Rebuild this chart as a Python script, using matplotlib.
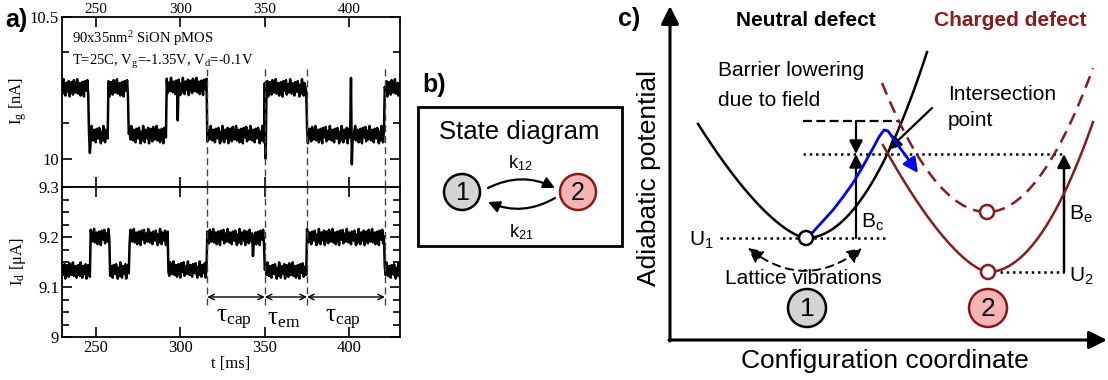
import numpy as np
import matplotlib
matplotlib.use("Agg")
import matplotlib.pyplot as plt
from matplotlib.patches import Circle, FancyArrowPatch, Rectangle
from matplotlib.ticker import MultipleLocator

# === STYLE ===
plt.rcParams['font.family'] = 'Liberation Serif'
plt.rcParams['mathtext.fontset'] = 'custom'
plt.rcParams['mathtext.rm'] = 'Liberation Serif'
plt.rcParams['mathtext.it'] = 'Liberation Serif:italic'
plt.rcParams['mathtext.sf'] = 'Liberation Sans'

W, H = 1108, 380
SANS = 'Liberation Sans'
DARKRED = '#8b1a1a'
PINK = '#f7b4b4'
GRAY = '#d4d4d4'
BLUE = '#0000ff'

# === DATA: panel a (RTN traces) ===
T_START, T_END, T_STEP = 230, 430, 0.5
IG_TRANS = [246, 257.5, 269.5, 292, 316, 350, 375, 421]
IG_LEVELS = [10.25, 10.085, 10.25, 10.085, 10.255, 10.085, 10.25, 10.085, 10.25]
ID_TRANS = [247, 258.5, 270, 293, 316, 350, 375, 421]
ID_LEVELS = [9.133, 9.2, 9.133, 9.2, 9.135, 9.2, 9.133, 9.2, 9.133]
NOISE = [0.3, -0.6, 0.9, -0.2, -0.8, 0.5, 0.1, -0.4, 0.7, -0.9, 0.2, 0.6,
         -0.3, -0.7, 0.8, 0.0, -0.5, 0.4, 0.9, -0.6, -0.1, 0.5, -0.8, 0.3,
         0.6, -0.4, -0.9, 0.7, 0.2, -0.3, 0.8, -0.7, 0.1, 0.4, -0.5, 0.9,
         -0.2, -0.6, 0.5, 0.0, -0.8, 0.6, 0.3, -0.4, 0.7, -0.1, -0.9]
IG_NOISE_AMP = 0.034
ID_NOISE_AMP = 0.018
IG_SPIKES = [(246.5, 10.02), (298.5, 10.135), (350.5, 10.0), (401.0, 10.285), (401.5, 9.98)]
ID_SPIKES = [(343.0, 9.162)]
DASH_T = [316, 350, 375, 421]
TAU_SPANS = [(316, 350, 'cap'), (350, 375, 'em'), (375, 421, 'cap')]

# === DATA: panel c (potential curves, pixel frame) ===
# (x_min, y_min, x_left, c_left, p_left, x_right, c_right, p_right)
NEUTRAL = (806, 238, 698, 0.1017, 1.5, 927, 0.0127, 2.0)
CHARGED = (988, 272, 883, 0.118, 1.5, 1093, 0.0136, 2.0)
CHARGED_FIELD = (987, 212, 882, 0.0117, 2.0, 1093, 0.0128, 2.0)
BLUE_X = [813, 823, 833, 843, 853, 862, 872, 879, 884, 888, 893, 900, 906]
BLUE_Y = [232, 221, 210, 197, 183, 168, 150, 137, 130, 131, 138, 148, 156]


def frac(l, t, r, b):
    return [l / W, 1 - b / H, (r - l) / W, (b - t) / H]


def trace(trans, levels, amp, shift, spikes):
    t = np.arange(T_START, T_END + T_STEP / 2, T_STEP)
    y = np.array(levels)[np.searchsorted(trans, t, side='right')]
    y = y + amp * np.roll(np.resize(NOISE, len(t)), shift)
    for ts, v in spikes:
        y[np.argmin(np.abs(t - ts))] = v
    return t, y


def curve(spec, n=80):
    x0, y0, xl, cl, pl, xr, cr, pr = spec
    xa = np.linspace(xl, x0, n)
    xb = np.linspace(x0, xr, n)
    ya = y0 - cl * np.abs(xa - x0) ** pl
    yb = y0 - cr * np.abs(xb - x0) ** pr
    return np.concatenate([xa, xb]), np.concatenate([ya, yb])


def arrow(ax, p0, p1, color='k', lw=1.5, ms=20, style='-|>', **kw):
    a = FancyArrowPatch(p0, p1, arrowstyle=style + ',head_length=0.4,head_width=0.2',
                        mutation_scale=ms, color=color, lw=lw, shrinkA=0, shrinkB=0, **kw)
    ax.add_patch(a)


fig = plt.figure(figsize=(W / 100, H / 100), dpi=100)

# --- panel a ---
ax1 = fig.add_axes(frac(62, 17, 400, 187))
ax2 = fig.add_axes(frac(62, 187, 400, 337))

t, ig = trace(IG_TRANS, IG_LEVELS, IG_NOISE_AMP, 0, IG_SPIKES)
ax1.plot(t, ig, color='k', lw=1.8)
ax1.set_xlim(T_START, T_END)
ax1.set_ylim(9.9, 10.5)
ax1.set_yticks([10, 10.5])
ax1.set_yticklabels(['10', '10.5'])
ax1.yaxis.set_minor_locator(MultipleLocator(0.125))
ax1.xaxis.set_major_locator(MultipleLocator(50))
ax1.tick_params(which='both', direction='in', top=True, right=True,
                labeltop=True, labelbottom=False, labelsize=12, pad=2, width=1.2)
ax1.tick_params(axis='x', labelsize=11, pad=1)
ax1.tick_params(which='major', length=7)
ax1.tick_params(which='minor', length=5)
ax1.vlines(DASH_T, 9.9, 10.33, colors='#444444', linestyles=(0, (5, 3)), lw=1)
ax1.text(236, 10.425, r'90x35nm$^2$ SiON pMOS', fontsize=10.5, va='center')
ax1.text(236, 10.34, r'T=25C, V$_\mathrm{g}$=-1.35V, V$_\mathrm{d}$=-0.1V', fontsize=10.5, va='center')

t, idr = trace(ID_TRANS, ID_LEVELS, ID_NOISE_AMP, 20, ID_SPIKES)
ax2.plot(t, idr, color='k', lw=1.8)
ax2.set_xlim(T_START, T_END)
ax2.set_ylim(9.0, 9.3)
ax2.set_yticks([9.0, 9.1, 9.2, 9.3])
ax2.set_yticklabels(['9', '9.1', '9.2', '9.3'])
ax2.yaxis.set_minor_locator(MultipleLocator(0.025))
ax2.xaxis.set_major_locator(MultipleLocator(50))
ax2.tick_params(which='both', direction='in', top=True, right=True, labelsize=12, pad=2, width=1.2)
ax2.tick_params(which='major', length=7)
ax2.tick_params(which='minor', length=5)
ax2.vlines(DASH_T, 9.065, 9.3, colors='#444444', linestyles=(0, (5, 3)), lw=1)
for a, b, lab in TAU_SPANS:
    ax2.annotate('', xy=(b, 9.08), xytext=(a, 9.08),
                 arrowprops=dict(arrowstyle='<->', lw=1, color='k', shrinkA=0, shrinkB=0))
    ax2.text((a + b) / 2 - 1.5, 9.035, r'τ$_\mathrm{%s}$' % lab, fontsize=18, ha='center', va='center')
ax2.set_xlabel('t [ms]', fontsize=12, labelpad=0)
for ax in (ax1, ax2):
    for s in ax.spines.values():
        s.set_linewidth(1.3)

fig.text(18 / W, 1 - 101 / H, r'I$_\mathrm{g}$ [nA]', rotation=90, ha='center', va='center', fontsize=12)
fig.text(18 / W, 1 - 262 / H, r'I$_\mathrm{d}$ [μA]', rotation=90, ha='center', va='center', fontsize=12)

# --- overlay for panels b and c (pixel frame) ---
ov = fig.add_axes([0, 0, 1, 1])
ov.set_xlim(0, W)
ov.set_ylim(H, 0)
ov.axis('off')

for lab, x, y in [('a)', 16, 20), ('b)', 434, 85), ('c)', 629, 19)]:
    ov.text(x, y, lab, fontsize=18, fontweight='bold', family=SANS, ha='center', va='center')

# panel b
ov.add_patch(Rectangle((418, 107), 204, 139, fill=False, lw=2, ec='k'))
ov.text(519, 132, 'State diagram', fontsize=18.5, family=SANS, ha='center', va='center')
ov.add_patch(Circle((462, 192), 18, fc=GRAY, ec='k', lw=1.8))
ov.add_patch(Circle((578, 192), 18, fc=PINK, ec=DARKRED, lw=1.8))
ov.text(462, 193, '1', fontsize=18, family=SANS, ha='center', va='center')
ov.text(578, 193, '2', fontsize=18, family=SANS, ha='center', va='center')
arrow(ov, (488, 188), (555, 188), lw=1.6, ms=17, connectionstyle='arc3,rad=-0.25')
arrow(ov, (555, 198), (488, 202), lw=1.6, ms=17, connectionstyle='arc3,rad=-0.25')
ov.text(520, 163, r'k$_\mathsf{12}$', fontsize=13, family=SANS, ha='center', va='center')
ov.text(521, 232, r'k$_\mathsf{21}$', fontsize=13, family=SANS, ha='center', va='center')

# panel c axes
arrow(ov, (670, 341), (670, 6), lw=2.2, ms=27)
arrow(ov, (669, 340), (1107, 340), lw=2.2, ms=27)
ov.text(649, 178, 'Adiabatic potential', rotation=90, fontsize=19, family=SANS, ha='center', va='center')
ov.text(885, 361, 'Configuration coordinate', fontsize=19, family=SANS, ha='center', va='center')
ov.text(806, 20, 'Neutral defect', fontsize=15, fontweight='bold', family=SANS, ha='center', va='center')
ov.text(1010, 20, 'Charged defect', fontsize=15, fontweight='bold', family=SANS, ha='center', va='center',
        color=DARKRED)

# levels
ov.plot([803, 900], [121, 121], color='k', lw=1.6, ls=(0, (4, 2)))
ov.plot([803, 1065], [154, 154], color='k', lw=1.8, ls=(0, (1, 1.5)))
ov.plot([720, 888], [238, 238], color='k', lw=1.8, ls=(0, (1, 1.5)))
ov.plot([1000, 1064], [272, 272], color='k', lw=1.8, ls=(0, (1, 1.5)))

# curves
x, y = curve(NEUTRAL)
ov.plot(x, y, color='k', lw=1.8)
x, y = curve(CHARGED)
ov.plot(x, y, color=DARKRED, lw=1.8)
x, y = curve(CHARGED_FIELD)
ov.plot(x, y, color=DARKRED, lw=1.8, ls=(0, (5, 3)))
ov.plot(BLUE_X, BLUE_Y, color=BLUE, lw=2)
arrow(ov, (BLUE_X[-1], BLUE_Y[-1]), (918, 173), color=BLUE, lw=2, ms=22)

# arrows
arrow(ov, (856, 121), (856, 154), lw=1.6)
arrow(ov, (856, 238), (856, 154), lw=1.6)
arrow(ov, (1064, 272), (1064, 154), lw=1.8)
arrow(ov, (932, 108), (888, 150), lw=1.6)
arrow(ov, (748, 248), (862, 248), lw=1.4, style='<|-|>', ms=22, ls=(0, (4, 3)),
      connectionstyle='arc3,rad=0.39')

# minima markers
ov.add_patch(Circle((806, 238), 7, fc='w', ec='k', lw=1.8, zorder=5))
ov.add_patch(Circle((988, 272), 7, fc='w', ec=DARKRED, lw=1.8, zorder=5))
ov.add_patch(Circle((987, 212), 7, fc='w', ec=DARKRED, lw=1.8, zorder=5))
ov.add_patch(Circle((807, 308), 19, fc=GRAY, ec='k', lw=1.8))
ov.add_patch(Circle((988, 308), 19, fc=PINK, ec=DARKRED, lw=1.8))
ov.text(807, 309, '1', fontsize=19, family=SANS, ha='center', va='center')
ov.text(988, 309, '2', fontsize=19, family=SANS, ha='center', va='center')

# labels
ov.text(718, 71, 'Barrier lowering', fontsize=15, family=SANS, va='center')
ov.text(718, 100, 'due to field', fontsize=15, family=SANS, va='center')
ov.text(948, 95, 'Intersection', fontsize=15, family=SANS, va='center')
ov.text(948, 121, 'point', fontsize=15, family=SANS, va='center')
ov.text(803, 279, 'Lattice vibrations', fontsize=15, family=SANS, ha='center', va='center')
ov.text(701, 240, r'U$_\mathsf{1}$', fontsize=15, family=SANS, ha='center', va='center')
ov.text(861, 221, r'B$_\mathsf{c}$', fontsize=15, family=SANS, va='center')
ov.text(1069, 214, r'B$_\mathsf{e}$', fontsize=15, family=SANS, va='center')
ov.text(1069, 275, r'U$_\mathsf{2}$', fontsize=15, family=SANS, va='center')

fig.savefig('out.png', dpi=100)
